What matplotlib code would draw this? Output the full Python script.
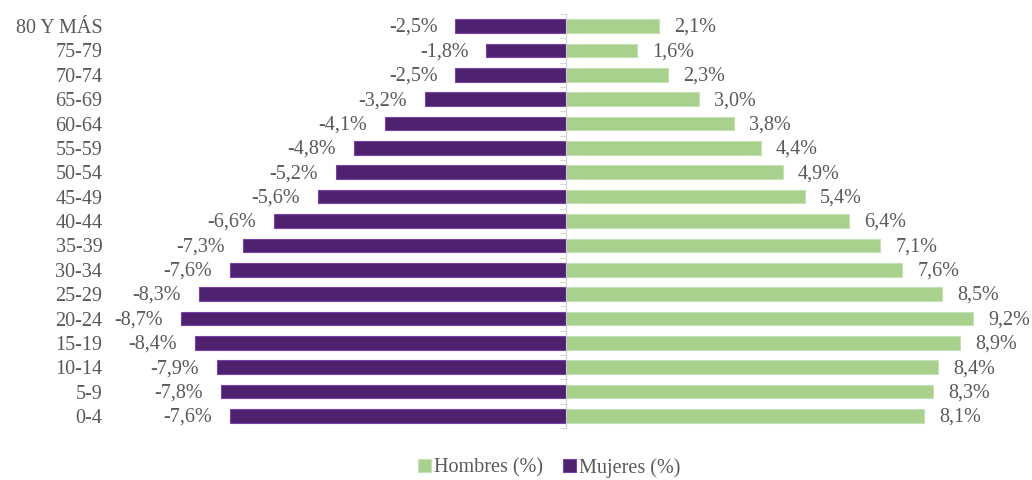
import numpy as np
import matplotlib.pyplot as plt

# age groups, bottom to top
grupos = ["0-4", "5-9", "10-14", "15-19", "20-24", "25-29", "30-34", "35-39",
          "40-44", "45-49", "50-54", "55-59", "60-64", "65-69", "70-74",
          "75-79", "80 Y MÁS"]
hombres = [8.1, 8.3, 8.4, 8.9, 9.2, 8.5, 7.6, 7.1, 6.4, 5.4, 4.9, 4.4, 3.8,
           3.0, 2.3, 1.6, 2.1]
mujeres = [-7.6, -7.8, -7.9, -8.4, -8.7, -8.3, -7.6, -7.3, -6.6, -5.6, -5.2,
           -4.8, -4.1, -3.2, -2.5, -1.8, -2.5]

plt.rcParams['font.family'] = ['Liberation Serif', 'DejaVu Serif']
gris = "#595959"
verde = "#A9D18E"
morado = "#4F2270"
fs = 14.5

fig = plt.figure(figsize=(10.32, 4.8), dpi=100)
ax = fig.add_axes([0.12, 0.108, 0.857, 0.863])

y = np.arange(len(grupos))
b1 = ax.barh(y, hombres, height=0.56, color=verde, edgecolor="#C5E0B4",
             linewidth=0.8, label="Hombres (%)")
b2 = ax.barh(y, mujeres, height=0.56, color=morado, edgecolor="#7A3FA8",
             linewidth=0.8, label="Mujeres (%)")


def fmt(v):
    return f"{v:.1f}".replace(".", ",") + "%"


for yi, v in zip(y, hombres):
    ax.annotate(fmt(v), (v, yi), xytext=(11, -1), textcoords="offset points",
                ha="left", va="center", fontsize=fs, color=gris)
for yi, v in zip(y, mujeres):
    ax.annotate(fmt(v), (v, yi), xytext=(-13, -1), textcoords="offset points",
                ha="right", va="center", fontsize=fs, color=gris)

ax.set_xlim(-10, 10)
ax.set_ylim(-0.5, len(grupos) - 0.5)
ax.set_xticks([])

# category labels on the left, center line with small ticks
ax.set_yticks(y, grupos)
ax.set_yticks(np.arange(-0.5, len(grupos)), minor=True)
ax.tick_params(axis="y", which="major", left=False, right=False, pad=12,
               labelsize=fs, labelcolor=gris)
ax.tick_params(axis="y", which="minor", left=False, right=True,
               direction="in", length=4, color="#D0D0D0")

for s in ["top", "bottom", "left"]:
    ax.spines[s].set_visible(False)
ax.spines["right"].set_position(("data", 0))
ax.spines["right"].set_color("#D0D0D0")

fig.legend(handles=[b1, b2], loc="lower center", bbox_to_anchor=(0.532, -0.033),
           ncol=2, frameon=False, fontsize=fs, handlelength=0.65,
           handleheight=0.65, handletextpad=0.15, columnspacing=1.0,
           labelcolor=gris)

fig.savefig("out.png", dpi=100)
